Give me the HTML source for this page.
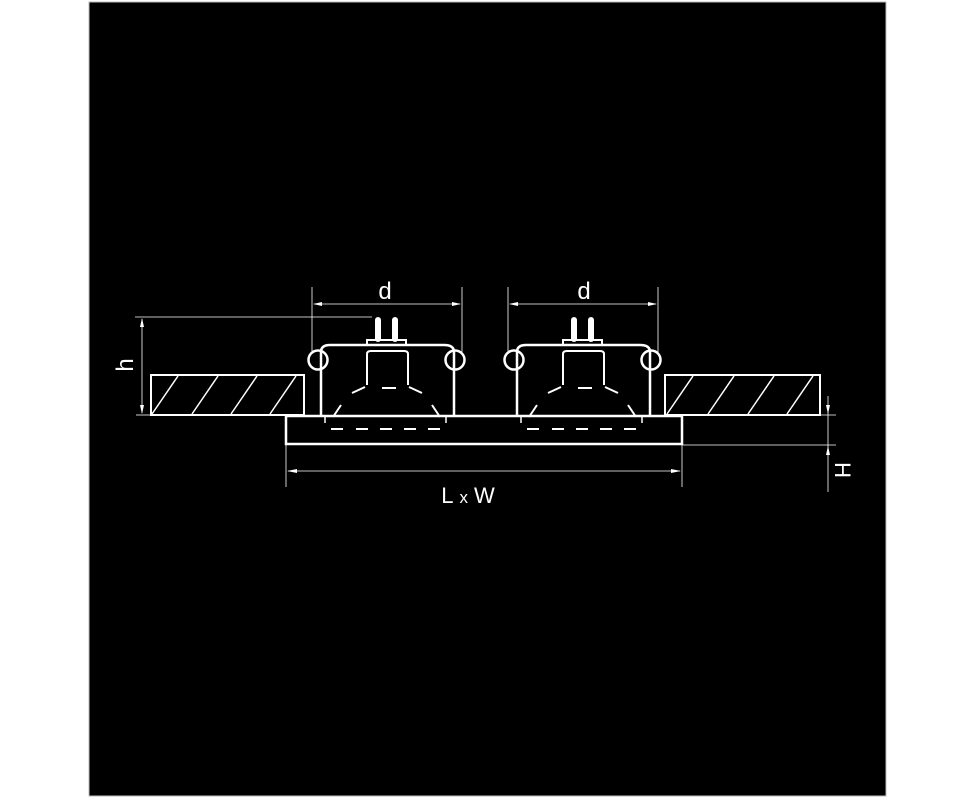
<!DOCTYPE html>
<html><head><meta charset="utf-8"><style>
html,body{margin:0;padding:0;background:#fff;width:976px;height:798px;overflow:hidden}
svg{display:block}
text{font-family:"Liberation Sans",Arial,sans-serif;fill:#fff}
</style></head><body>
<svg width="976" height="798" viewBox="0 0 976 798" xmlns="http://www.w3.org/2000/svg">
<rect x="0" y="0" width="976" height="798" fill="#fff"/>
<rect x="89" y="2" width="797" height="794" fill="#000" stroke="#bbb" stroke-width="1"/>
<defs>
<g id="lamp" fill="none" stroke="#fff">
  <!-- d dim -->
  <line x1="312" y1="287" x2="312" y2="352" stroke-width="0.8"/>
  <line x1="462" y1="287" x2="462" y2="352" stroke-width="0.8"/>
  <line x1="314" y1="304" x2="460" y2="304" stroke-width="0.8"/>
  <path d="M313 304 l9 -2 v4 z M461 304 l-9 -2 v4 z" fill="#fff" stroke="none"/>
  <!-- frame -->
  <path d="M321 416 V352 Q321 345 330 345 H444 Q454 345 454 352 V416" stroke-width="2.5"/>
  <circle cx="318" cy="360" r="9.5" stroke-width="2.5"/>
  <circle cx="455" cy="360" r="9.5" stroke-width="2.5"/>
  <!-- pins -->
  <line x1="378" y1="320" x2="378" y2="339" stroke-width="6" stroke-linecap="round"/>
  <line x1="395" y1="320" x2="395" y2="339" stroke-width="6" stroke-linecap="round"/>
  <path d="M367 345 V340 H406 V345" stroke-width="2"/>
  <!-- neck & reflector -->
  <path d="M367 385 V354 Q367 351 371 351 H404 Q408 351 408 354 V385" stroke-width="2"/>
  <path d="M365 387 L352 393 M409 387 L422 393" stroke-width="2"/>
  <path d="M341 405 L333 417 M432 405 L440 417" stroke-width="2"/>
  <line x1="382" y1="388" x2="396" y2="388" stroke-width="2"/>
  <path d="M325 416 V423 M446 416 V423" stroke-width="1.5"/>
  <path d="M331 429 H343 M356 429 H368 M380 429 H392 M404 429 H416 M428 429 H440" stroke-width="2"/>
</g>
</defs>
<use href="#lamp"/>
<use href="#lamp" transform="translate(196,0)"/>
<text x="385" y="299" font-size="24" text-anchor="middle">d</text>
<text x="584" y="299" font-size="24" text-anchor="middle">d</text>
<g fill="none" stroke="#fff">
  <!-- slabs -->
  <rect x="151" y="375" width="153" height="40" stroke-width="2"/>
  <path d="M152 414 L178 376 M192 414 L218 376 M231 414 L257 376 M270 414 L296 376" stroke-width="1.5"/>
  <rect x="665" y="375" width="155" height="40" stroke-width="2"/>
  <path d="M667 414 L693 376 M708 414 L734 376 M748 414 L774 376 M787 414 L813 376" stroke-width="1.5"/>
  <!-- panel -->
  <rect x="286" y="416" width="396" height="28" stroke-width="2.5"/>
  <!-- h dim -->
  <line x1="135" y1="317" x2="372" y2="317" stroke-width="0.8"/>
  <line x1="136" y1="415" x2="152" y2="415" stroke-width="0.8"/>
  <line x1="142" y1="319" x2="142" y2="413" stroke-width="0.8"/>
  <path d="M142 318 l-2 9 h4 z M142 414 l-2 -9 h4 z" fill="#fff" stroke="none"/>
  <!-- LxW dim -->
  <line x1="286" y1="444" x2="286" y2="487" stroke-width="0.8"/>
  <line x1="682" y1="444" x2="682" y2="487" stroke-width="0.8"/>
  <line x1="288" y1="471" x2="680" y2="471" stroke-width="0.8"/>
  <path d="M287 471 l10 -2 v4 z M681 471 l-10 -2 v4 z" fill="#fff" stroke="none"/>
  <!-- H dim -->
  <line x1="683" y1="415" x2="836" y2="415" stroke-width="0.8"/>
  <line x1="683" y1="445" x2="836" y2="445" stroke-width="0.8"/>
  <line x1="828" y1="396" x2="828" y2="492" stroke-width="0.8"/>
  <path d="M828 414 l-2 -9 h4 z M828 446 l-2 9 h4 z" fill="#fff" stroke="none"/>
</g>
<text x="468" y="503" font-size="22" text-anchor="middle">L<tspan font-size="17" dx="6">x</tspan><tspan dx="6">W</tspan></text>
<text transform="translate(133,365) rotate(-90)" font-size="24" text-anchor="middle">h</text>
<text transform="translate(835,470) rotate(90)" font-size="22" text-anchor="middle">H</text>
</svg>
</body></html>
